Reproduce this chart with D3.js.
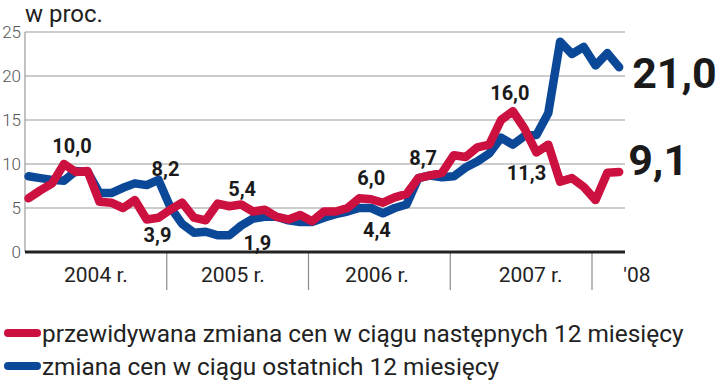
<!DOCTYPE html>
<html><head><meta charset="utf-8">
<script src="https://cdn.jsdelivr.net/npm/d3@7"></script>
<style>
html,body{margin:0;padding:0;background:#fff;}
svg{display:block;font-family:Roboto,"Noto Sans",sans-serif;}
</style></head>
<body>
<svg id="c" width="720" height="380"></svg>
<script>
// ---- data ----
const seriesNames = ["przewidywana zmiana cen w ciągu następnych 12 miesięcy", "zmiana cen w ciągu ostatnich 12 miesięcy"];
// monthly values, Jan 2004 .. Mar 2008
const expected = [6.1,7.0,7.8,10.0,9.1,9.2,5.7,5.6,5.0,5.9,3.7,3.9,4.8,5.6,3.9,3.6,5.5,5.2,5.4,4.6,4.8,4.0,3.7,4.2,3.5,4.6,4.6,5.0,6.1,6.0,5.6,6.2,6.6,8.4,8.7,9.0,11.0,10.8,11.9,12.2,15.0,16.0,14.0,11.3,12.2,8.0,8.4,7.4,5.9,9.0,9.1];
const observed = [8.6,8.4,8.2,8.1,9.2,9.1,6.7,6.7,7.3,7.8,7.6,8.2,5.1,3.2,2.2,2.3,1.9,1.9,3.0,3.8,4.0,4.0,3.6,3.4,3.4,3.9,4.3,4.6,5.0,5.0,4.4,5.0,5.4,8.4,8.7,8.5,8.6,9.6,10.3,11.2,13.0,12.2,13.2,13.3,15.8,23.9,22.5,23.3,21.2,22.6,21.0];
const yTicks = [0,5,10,15,20,25];
const yearLabels = ["2004 r.","2005 r.","2006 r.","2007 r.","'08"];
const yearBounds = [12,24,36,48];           // month index of year boundaries
const yearLabelMonths = [6,17.6,29.8,42.8,51.8];
const unitLabel = "w proc.";
// value annotations: [series, month index, text]
const annotations = [
  ["e",3,"10,0"],["o",11,"8,2"],["e",11,"3,9"],["e",18,"5,4"],["o",17,"1,9"],
  ["e",28,"6,0"],["o",30,"4,4"],["o",34,"8,7"],["e",41,"16,0"],["e",43,"11,3"]
];
const endLabels = [["o","21,0"],["e","9,1"]];

// ---- layout/styles ----
const RED = "#cc1040", BLUE = "#0c4898";
const svg = d3.select("#c");
const x = d3.scaleLinear().domain([0,48]).range([25,592]);
const y = d3.scaleLinear().domain([0,25]).range([252,32]);
const X = i => x(i + 0.3);
const series = {e: expected, o: observed};
const color = {e: RED, o: BLUE};

// gridlines
svg.append("g").selectAll("line").data(yTicks.filter(d=>d>0)).join("line")
  .attr("x1",25).attr("x2",625).attr("y1",d=>y(d)).attr("y2",d=>y(d))
  .attr("stroke","#9a9a9a").attr("stroke-width",1.2);
// y axis line
svg.append("line").attr("x1",25).attr("x2",25).attr("y1",y(25)).attr("y2",y(0))
  .attr("stroke","#9a9a9a").attr("stroke-width",1.2);
// y tick labels
svg.append("g").selectAll("text").data(yTicks).join("text")
  .attr("x",21).attr("y",d=>y(d)).attr("dy","0.36em").attr("text-anchor","end")
  .attr("font-size",17).attr("font-weight",300).attr("fill","#555").text(d=>d);
// unit
svg.append("text").attr("x",25).attr("y",22).attr("font-size",24).attr("fill","#222").text(unitLabel);

// year separators
svg.append("g").selectAll("line").data(yearBounds).join("line")
  .attr("x1",d=>x(d)).attr("x2",d=>x(d)).attr("y1",y(0)).attr("y2",290)
  .attr("stroke","#8a8a8a").attr("stroke-width",1.2);
svg.append("g").selectAll("text").data(yearLabels).join("text")
  .attr("x",(d,i)=>x(yearLabelMonths[i])).attr("y",282).attr("text-anchor","middle")
  .attr("font-size",21).attr("fill","#222").text(d=>d);

// lines
const line = d3.line().x((d,i)=>X(i)).y(d=>y(d));
["o","e"].forEach(k=>{
  svg.append("path").datum(series[k]).attr("d",line).attr("fill","none")
    .attr("stroke",color[k]).attr("stroke-width",8.5)
    .attr("stroke-linejoin","round").attr("stroke-linecap","round");
});
// baseline
svg.append("line").attr("x1",25).attr("x2",625).attr("y1",y(0)).attr("y2",y(0))
  .attr("stroke","#222").attr("stroke-width",3);

// annotations
const offs = [[8,-11],[7,-4],[-1,24],[1,-8],[28,15],[12,-13],[-6,24],[-7,-10],[-3,-11],[-10,27]];
svg.append("g").selectAll("text").data(annotations).join("text")
  .attr("x",(d,i)=>X(d[1])+offs[i][0]).attr("y",(d,i)=>y(series[d[0]][d[1]])+offs[i][1])
  .attr("text-anchor","middle").attr("font-size",20).attr("font-weight",700)
  .attr("fill","#1a1a1a").text(d=>d[2]);
const last = expected.length-1;
const endOffs = [[13,21],[9,3]];
svg.append("g").selectAll("text").data(endLabels).join("text")
  .attr("x",(d,i)=>X(last)+endOffs[i][0]).attr("y",(d,i)=>y(series[d[0]][last])+endOffs[i][1])
  .attr("font-size",43).attr("font-weight",700).attr("fill","#1a1a1a").text(d=>d[1]);

// legend
const leg = svg.append("g").selectAll("g").data(seriesNames).join("g")
  .attr("transform",(d,i)=>`translate(0,${333+i*33})`);
leg.append("line").attr("x1",8).attr("x2",37).attr("stroke",(d,i)=>i?BLUE:RED)
  .attr("stroke-width",8).attr("stroke-linecap","round");
leg.append("text").attr("x",42).attr("dy","0.35em").attr("font-size",24.4).attr("fill","#222").text(d=>d);
</script>
</body></html>
